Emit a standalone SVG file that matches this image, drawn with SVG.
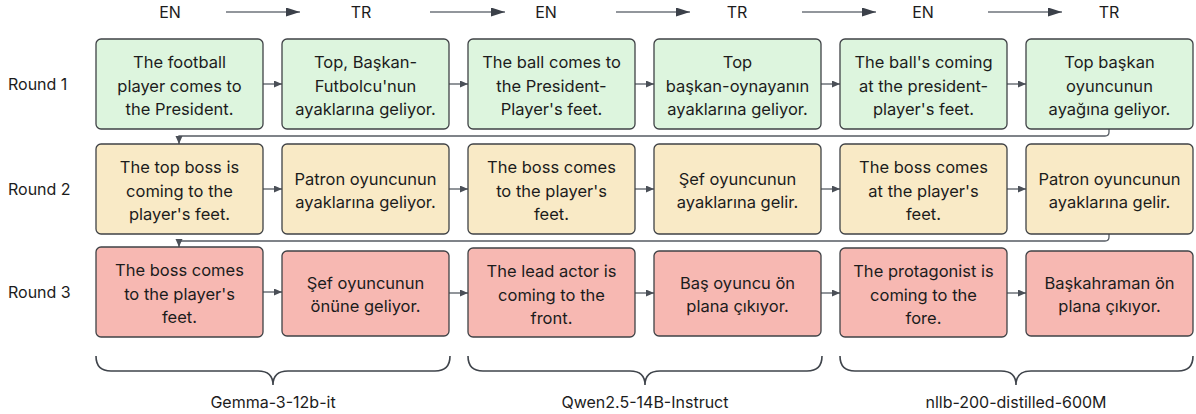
<svg xmlns="http://www.w3.org/2000/svg" width="1196" height="414" viewBox="0 0 1196 414">
<defs>
<style>
text{font-family:Inter,"Noto Sans","Liberation Sans",sans-serif;fill:#1c1c1c}
.bt{font-size:16.5px;text-anchor:middle}
.lbl{font-size:16px}
.hd{font-size:16px;text-anchor:middle}
.g{fill:#ddf5de;stroke:#3f4246;stroke-width:1.3}
.y{fill:#f9eac6;stroke:#3f4246;stroke-width:1.3}
.r{fill:#f7b8b2;stroke:#3f4246;stroke-width:1.3}
.c{fill:none;stroke:#555b63;stroke-width:1.3}
.ha{fill:none;stroke:#6e737b;stroke-width:1.5}
.br{fill:none;stroke:#3f444b;stroke-width:1.6}
</style>
<marker id="a" markerUnits="userSpaceOnUse" markerWidth="9" markerHeight="8" refX="8" refY="3.5" orient="auto"><path d="M0,0 L8,3.5 L0,7 z" fill="#4a4f57"/></marker>
<marker id="h" markerUnits="userSpaceOnUse" markerWidth="15" markerHeight="10" refX="14" refY="4.5" orient="auto"><path d="M0,0 L14,4.5 L0,9 z" fill="#3b4049"/></marker>
</defs>
<rect width="1196" height="414" fill="#ffffff"/>

<g id="header">
<text class="hd" x="170" y="18">EN</text>
<text class="hd" x="361" y="18">TR</text>
<text class="hd" x="546" y="18">EN</text>
<text class="hd" x="737" y="18">TR</text>
<text class="hd" x="923" y="18">EN</text>
<text class="hd" x="1109" y="18">TR</text>
<path class="ha" d="M226,12 H300" marker-end="url(#h)"/>
<path class="ha" d="M430,12 H505" marker-end="url(#h)"/>
<path class="ha" d="M616,12 H690" marker-end="url(#h)"/>
<path class="ha" d="M802,12 H876" marker-end="url(#h)"/>
<path class="ha" d="M988,12 H1062" marker-end="url(#h)"/>
</g>

<g id="rowlabels">
<text class="lbl" x="8" y="90">Round 1</text>
<text class="lbl" x="8" y="195">Round 2</text>
<text class="lbl" x="8" y="298">Round 3</text>
</g>

<g id="connectors">
<path class="c" d="M263,84 H282" marker-end="url(#a)"/>
<path class="c" d="M449,84 H468" marker-end="url(#a)"/>
<path class="c" d="M635,84 H654" marker-end="url(#a)"/>
<path class="c" d="M821,84 H840" marker-end="url(#a)"/>
<path class="c" d="M1007,84 H1026" marker-end="url(#a)"/>
<path class="c" d="M1109,129 V132 Q1109,136 1105,136 H179 V144" marker-end="url(#a)"/>
<path class="c" d="M263,189 H282" marker-end="url(#a)"/>
<path class="c" d="M449,189 H468" marker-end="url(#a)"/>
<path class="c" d="M635,189 H654" marker-end="url(#a)"/>
<path class="c" d="M821,189 H840" marker-end="url(#a)"/>
<path class="c" d="M1007,189 H1026" marker-end="url(#a)"/>
<path class="c" d="M1109,234 V237 Q1109,241 1105,241 H179 V247" marker-end="url(#a)"/>
<path class="c" d="M263,292 H282" marker-end="url(#a)"/>
<path class="c" d="M449,293 H468" marker-end="url(#a)"/>
<path class="c" d="M635,293 H654" marker-end="url(#a)"/>
<path class="c" d="M821,293 H840" marker-end="url(#a)"/>
<path class="c" d="M1007,293 H1026" marker-end="url(#a)"/>
</g>

<g id="r1n1"><rect class="g" x="96" y="39" width="167" height="90" rx="5"/>
<text class="bt" x="179.5" y="68">The football</text><text class="bt" x="179.5" y="91.5">player comes to</text><text class="bt" x="179.5" y="115">the President.</text></g>
<g id="r1n2"><rect class="g" x="282" y="39" width="167" height="90" rx="5"/>
<text class="bt" x="365.5" y="68">Top, Başkan-</text><text class="bt" x="365.5" y="91.5">Futbolcu'nun</text><text class="bt" x="365.5" y="115">ayaklarına geliyor.</text></g>
<g id="r1n3"><rect class="g" x="468" y="39" width="167" height="90" rx="5"/>
<text class="bt" x="551.5" y="68">The ball comes to</text><text class="bt" x="551.5" y="91.5">the President-</text><text class="bt" x="551.5" y="115">Player's feet.</text></g>
<g id="r1n4"><rect class="g" x="654" y="39" width="167" height="90" rx="5"/>
<text class="bt" x="737.5" y="68">Top</text><text class="bt" x="737.5" y="91.5">başkan-oynayanın</text><text class="bt" x="737.5" y="115">ayaklarına geliyor.</text></g>
<g id="r1n5"><rect class="g" x="840" y="39" width="167" height="90" rx="5"/>
<text class="bt" x="923.5" y="68">The ball's coming</text><text class="bt" x="923.5" y="91.5">at the president-</text><text class="bt" x="923.5" y="115">player's feet.</text></g>
<g id="r1n6"><rect class="g" x="1026" y="39" width="167" height="90" rx="5"/>
<text class="bt" x="1109.5" y="68">Top başkan</text><text class="bt" x="1109.5" y="91.5">oyuncunun</text><text class="bt" x="1109.5" y="115">ayağına geliyor.</text></g>

<g id="r2n1"><rect class="y" x="96" y="144" width="167" height="90" rx="5"/>
<text class="bt" x="179.5" y="173">The top boss is</text><text class="bt" x="179.5" y="196.5">coming to the</text><text class="bt" x="179.5" y="220">player's feet.</text></g>
<g id="r2n2"><rect class="y" x="282" y="144" width="167" height="90" rx="5"/>
<text class="bt" x="365.5" y="184.5">Patron oyuncunun</text><text class="bt" x="365.5" y="208">ayaklarına geliyor.</text></g>
<g id="r2n3"><rect class="y" x="468" y="144" width="167" height="90" rx="5"/>
<text class="bt" x="551.5" y="173">The boss comes</text><text class="bt" x="551.5" y="196.5">to the player's</text><text class="bt" x="551.5" y="220">feet.</text></g>
<g id="r2n4"><rect class="y" x="654" y="144" width="167" height="90" rx="5"/>
<text class="bt" x="737.5" y="184.5">Şef oyuncunun</text><text class="bt" x="737.5" y="208">ayaklarına gelir.</text></g>
<g id="r2n5"><rect class="y" x="840" y="144" width="167" height="90" rx="5"/>
<text class="bt" x="923.5" y="173">The boss comes</text><text class="bt" x="923.5" y="196.5">at the player's</text><text class="bt" x="923.5" y="220">feet.</text></g>
<g id="r2n6"><rect class="y" x="1026" y="144" width="167" height="90" rx="5"/>
<text class="bt" x="1109.5" y="184.5">Patron oyuncunun</text><text class="bt" x="1109.5" y="208">ayaklarına gelir.</text></g>

<g id="r3n1"><rect class="r" x="96" y="247" width="167" height="90" rx="5"/>
<text class="bt" x="179.5" y="276">The boss comes</text><text class="bt" x="179.5" y="299.5">to the player's</text><text class="bt" x="179.5" y="323">feet.</text></g>
<g id="r3n2"><rect class="r" x="282" y="251" width="167" height="85" rx="5"/>
<text class="bt" x="365.5" y="288.5">Şef oyuncunun</text><text class="bt" x="365.5" y="312">önüne geliyor.</text></g>
<g id="r3n3"><rect class="r" x="468" y="248" width="167" height="89" rx="5"/>
<text class="bt" x="551.5" y="277">The lead actor is</text><text class="bt" x="551.5" y="300.5">coming to the</text><text class="bt" x="551.5" y="324">front.</text></g>
<g id="r3n4"><rect class="r" x="654" y="251" width="167" height="85" rx="5"/>
<text class="bt" x="737.5" y="288.5">Baş oyuncu ön</text><text class="bt" x="737.5" y="312">plana çıkıyor.</text></g>
<g id="r3n5"><rect class="r" x="840" y="248" width="167" height="89" rx="5"/>
<text class="bt" x="923.5" y="277">The protagonist is</text><text class="bt" x="923.5" y="300.5">coming to the</text><text class="bt" x="923.5" y="324">fore.</text></g>
<g id="r3n6"><rect class="r" x="1026" y="251" width="167" height="85" rx="5"/>
<text class="bt" x="1109.5" y="288.5">Başkahraman ön</text><text class="bt" x="1109.5" y="312">plana çıkıyor.</text></g>

<g id="braces">
<path class="br" d="M96,356 Q96,371 111,371 H258 Q273,371 273,385 Q273,371 288,371 H435 Q450,371 450,356"/>
<path class="br" d="M468,356 Q468,371 483,371 H630 Q645,371 645,385 Q645,371 660,371 H807 Q822,371 822,356"/>
<path class="br" d="M840,356 Q840,371 855,371 H1001 Q1016,371 1016,385 Q1016,371 1031,371 H1178 Q1193,371 1193,356"/>
<text class="hd" x="273" y="408">Gemma-3-12b-it</text>
<text class="hd" x="645" y="408">Qwen2.5-14B-Instruct</text>
<text class="hd" x="1016" y="408">nllb-200-distilled-600M</text>
</g>
</svg>
